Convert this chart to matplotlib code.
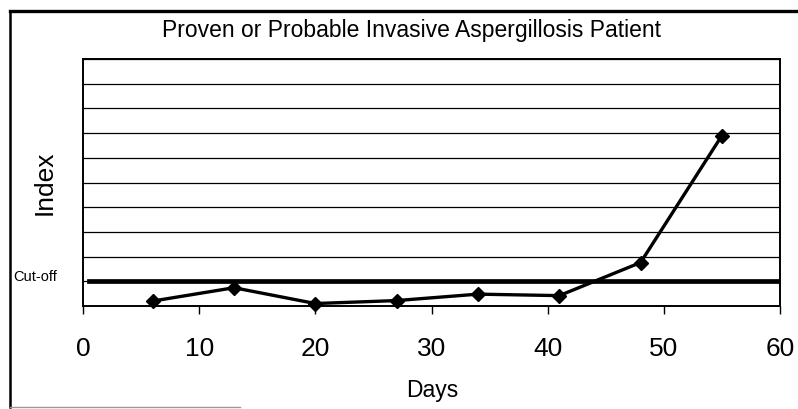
import matplotlib
matplotlib.use("Agg")
import matplotlib.pyplot as plt
from matplotlib.lines import Line2D

plt.rcParams['font.family'] = ['Liberation Sans', 'DejaVu Sans']

days = [6, 13, 20, 27, 34, 41, 48, 55]
index_values = [0.10, 0.37, 0.05, 0.11, 0.24, 0.21, 0.88, 3.45]
cutoff = 0.5
cutoff_range = [0.5, 60]
x_ticks = [0, 10, 20, 30, 40, 50, 60]
y_grid = [0.5, 1.0, 1.5, 2.0, 2.5, 3.0, 3.5, 4.0, 4.5, 5.0]

fig = plt.figure(figsize=(7.98, 4.09), dpi=100)
ax = fig.add_axes([83/798, 1-306/409, (780-83)/798, (306-59)/409])

ax.set_xlim(0, 60)
ax.set_ylim(0, 5)
for g in y_grid:
    ax.axhline(g, color='black', linewidth=0.9, zorder=1)
ax.plot(cutoff_range, [cutoff, cutoff], color='black', linewidth=3.4, zorder=2)
ax.plot(days, index_values, color='black', linewidth=2.4, marker='D',
        markersize=7.5, zorder=3, clip_on=False)

ax.set_xticks(x_ticks)
ax.set_xticklabels([str(t) for t in x_ticks], fontsize=19)
ax.set_yticks([])
ax.tick_params(axis='x', direction='out', length=6, width=1, pad=16)
for s in ax.spines.values():
    s.set_linewidth(1.4)
    s.set_color('black')

fig.text(411/798, 1-30/409, 'Proven or Probable Invasive Aspergillosis Patient',
         ha='center', va='center', fontsize=16.5)
fig.text(45/798, 1-183/409, 'Index', rotation=90, ha='center', va='center', fontsize=19)
fig.text(432/798, 1-390/409, 'Days', ha='center', va='center', fontsize=16.5)
fig.text(13/798, 1-277/409, 'Cut-off', ha='left', va='center', fontsize=10.5)

# outer frame
fig.add_artist(Line2D([10/798, 10/798], [1-11/409, 1-407/409], transform=fig.transFigure,
                      color='black', linewidth=1.8))
fig.add_artist(Line2D([10/798, 1.0], [1-11/409, 1-11/409], transform=fig.transFigure,
                      color='black', linewidth=2.4))
fig.add_artist(Line2D([10/798, 240/798], [1-407/409, 1-407/409], transform=fig.transFigure,
                      color='#999999', linewidth=1.0))

fig.savefig('out.png', dpi=100)
